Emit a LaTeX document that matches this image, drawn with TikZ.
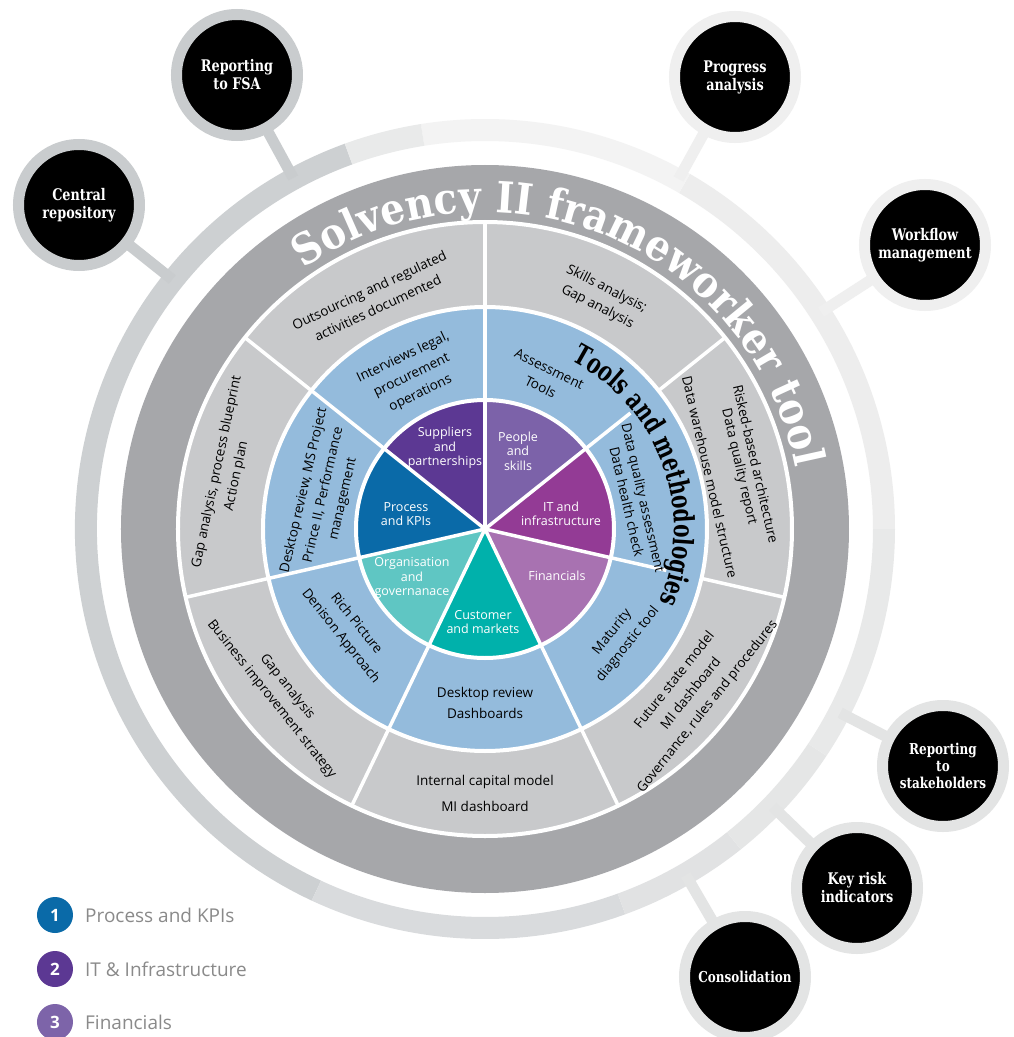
\documentclass[tikz,border=0pt]{standalone}
\usepackage{fontspec}
\setmainfont{Open Sans}
\newfontfamily\slab[FakeStretch=0.8]{DejaVu Serif}
\newfontfamily\slabT[FakeStretch=0.9]{DejaVu Serif}
\newfontfamily\slabM[FakeStretch=0.72]{DejaVu Serif}
\usetikzlibrary{calc,decorations.text}

\definecolor{darkring}{HTML}{A6A7AA}
\definecolor{greyring}{HTML}{C8C9CB}
\definecolor{bluering}{HTML}{94BBDC}
\definecolor{cPeople}{HTML}{7C62A9}
\definecolor{cSupp}{HTML}{5C3893}
\definecolor{cProc}{HTML}{0A6AA8}
\definecolor{cOrg}{HTML}{5FC6C3}
\definecolor{cCust}{HTML}{00B1AB}
\definecolor{cFin}{HTML}{A872B1}
\definecolor{cIT}{HTML}{933B95}
\definecolor{haloA}{HTML}{C9CCCE}
\definecolor{haloB}{HTML}{EFEFEF}
\definecolor{haloC}{HTML}{E3E4E4}
\definecolor{legtxt}{HTML}{8A8A8A}
\definecolor{leg3}{HTML}{7D64A9}
\definecolor{rsA}{HTML}{CDD0D2}
\definecolor{rsB}{HTML}{D9DBDD}
\definecolor{rsC}{HTML}{E1E2E3}
\definecolor{rsD}{HTML}{E5E6E6}
\definecolor{rsE}{HTML}{E8E9E9}
\definecolor{rsF}{HTML}{EDEDED}
\definecolor{rsG}{HTML}{F3F3F3}
\definecolor{rsH}{HTML}{E9EAEA}

\begin{document}
\begin{tikzpicture}[x=1pt,y=1pt,
  ringtxt/.style={font=\fontsize{13.5}{20}\selectfont, align=center, text=black, inner sep=0pt},
  pietxt/.style={font=\fontsize{12.5}{14.5}\selectfont, align=center, text=white, inner sep=0pt},
  sat/.style={circle, fill=black, minimum size=121pt, line width=11pt, inner sep=0pt, align=center, text=white, font=\slab\bfseries\fontsize{16}{18}\selectfont},
  conn/.style={line width=11pt},
  divider/.style={white, line width=3.5pt},
  sepline/.style={white, line width=4pt},
  legcirc/.style={circle, minimum size=36pt, inner sep=0pt, text=white, font=\bfseries\fontsize{17}{17}\selectfont},
  legtext/.style={anchor=west, inner sep=0pt, text=legtxt, font=\fontsize{19}{19}\selectfont}
]
\useasboundingbox (-485,-508) rectangle (529,529);
\fill[white] (-485,-508) rectangle (529,529);
\coordinate (O) at (0,0);

% outer segmented ring
\foreach \a/\b/\c in {110/245/rsA, 245/290/rsB, 290/308.6/rsC, 308.6/326.4/rsD, 326.4/360/rsE, 0/60/rsF, 60/99/rsG, 99/110/rsH}{
  \fill[\c] (\a:410) arc[start angle=\a, end angle=\b, radius=410] -- (\b:388) arc[start angle=\b, end angle=\a, radius=388] -- cycle;
}

% satellite positions and connectors
\coordinate (cr) at (-406,324);
\coordinate (fsa) at (-248,454);
\coordinate (pa) at (250,452);
\coordinate (wf) at (440,284);
\coordinate (rs) at (458,-237);
\coordinate (kr) at (372,-359);
\coordinate (cs) at (260,-448);
\draw[conn, haloA] (cr) -- ($(O)!400pt!(cr)$);
\draw[conn, haloA] (fsa) -- ($(O)!400pt!(fsa)$);
\draw[conn, haloB] (pa) -- ($(O)!400pt!(pa)$);
\draw[conn, haloB] (wf) -- ($(O)!400pt!(wf)$);
\draw[conn, haloC] (rs) -- ($(O)!400pt!(rs)$);
\draw[conn, haloC] (kr) -- ($(O)!400pt!(kr)$);
\draw[conn, haloC] (cs) -- ($(O)!400pt!(cs)$);
\node[sat, draw=haloA] (crn) at (cr) {Central\\repository};
\node[sat, draw=haloA] (fsan) at (fsa) {Reporting\\to FSA};
\node[sat, draw=haloB] (pan) at (pa) {Progress\\analysis};
\node[sat, draw=haloB] (wfn) at (wf) {Workflow\\management};
\node[sat, draw=haloC, font=\slab\bfseries\fontsize{15}{17}\selectfont] (rsn) at (rs) {Reporting\\to\\stakeholders};
\node[sat, draw=haloC] (krn) at (kr) {Key risk\\indicators};
\node[sat, draw=haloC, font=\slab\bfseries\fontsize{15}{17}\selectfont] (csn) at (cs) {Consolidation};

% main discs
\fill[darkring] (O) circle[radius=364];
\fill[greyring] (O) circle[radius=307];
\fill[bluering] (O) circle[radius=222];

% pie
\foreach \a/\b/\c in {38.57/90/cPeople, 90/141.43/cSupp, 141.43/192.86/cProc, 192.86/244.29/cOrg, 244.29/295.71/cCust, 295.71/347.14/cFin, 347.14/398.57/cIT}{
  \fill[\c] (O) -- (\a:129) arc[start angle=\a, end angle=\b, radius=129] -- cycle;
}

% dividers
\foreach \a in {90,141.43,192.86,244.29,295.71}{
  \draw[divider] (O) -- (\a:307);
}
\foreach \a in {38.57,347.14}{
  \draw[divider] (O) -- (\a:186);
  \draw[divider] (\a:222) -- (\a:307);
}
\draw[sepline] (O) circle[radius=129];
\draw[sepline] (O) circle[radius=222];
\draw[sepline] (O) circle[radius=307];

% curved titles
\path[decorate, decoration={text along path, text align=center,
  text={|\slabT\bfseries\fontsize{43}{43}\selectfont\color{white}|Solvency II frameworker tool}}]
  (128:317) arc[start angle=128, end angle=8, radius=317];
\path[decorate, decoration={text along path, text align=center,
  text={|\slabM\bfseries\fontsize{28}{28}\selectfont\color{black}|Tools and methodologies}}]
  (80:189) arc[start angle=80, end angle=-40, radius=189];

% grey ring texts
\node[ringtxt, rotate=25] (t1) at (-111.5,230) {Outsourcing and regulated\\activities documented};
\node[ringtxt, rotate=-27] (t2) at (117,231) {Skills analysis;\\Gap analysis};
\node[ringtxt, rotate=78] (t3) at (168:264) {Gap analysis, process blueprint\\Action plan};
\node[ringtxt, rotate=-51.4] (t4) at (218.6:263) {Gap analysis\\Business improvement strategy};
\node[ringtxt, font=\fontsize{13.5}{26}\selectfont] (t5) at (0,-264.5) {Internal capital model\\MI dashboard};
\node[ringtxt, rotate=51.4, font=\fontsize{13.5}{21}\selectfont] (t6) at (321.4:264) {Future state model\\MI dashboard\\Governance, rules and procedures};
\node[ringtxt, rotate=-77] (t7a) at (271,65) {Risked-based architecture};
\node[ringtxt, rotate=-77] (t7b) at (254,62) {Data quality report};
\node[ringtxt, rotate=-77] (t7c) at (225,52) {Data warehouse model structure};

% blue ring texts
\node[ringtxt, rotate=-26] (b1) at (60,151) {Assessment\\Tools};
\node[ringtxt, rotate=25.7] (b2) at (115.5:170) {Interviews legal,\\procurement\\operations};
\node[ringtxt, rotate=77] (b3) at (168:165) {Desktop review, MS Project\\Prince II, Performance\\management};
\node[ringtxt, rotate=-51.4] (b4) at (216.5:170) {Rich Picture\\Denison Approach};
\node[ringtxt, font=\fontsize{13.5}{21}\selectfont] (b5) at (0,-174) {Desktop review\\Dashboards};
\node[ringtxt, rotate=51.4] (b6) at (321:174) {Maturity\\diagnostic tool};
\node[ringtxt, rotate=-77, font=\fontsize{13.5}{17}\selectfont] (b7) at (11:153) {Data quality assessment\\Data health check};

% pie texts
\node[pietxt] (p1) at (33,78) {People\\and\\skills};
\node[pietxt] (p2) at (-40,81) {Suppliers\\and\\partnerships};
\node[pietxt] (p3) at (-79,15) {Process\\and KPIs};
\node[pietxt] (p4) at (-73,-49) {Organisation\\and\\governanace};
\node[pietxt] (p5) at (-2,-93) {Customer\\and markets};
\node[pietxt] (p6) at (72,-47) {Financials};
\node[pietxt] (p7) at (76,15) {IT and\\infrastructure};

% legend
\node[legcirc, fill=cProc] (l1) at (-430,-386) {1};
\node[legtext] (l1t) at (-400,-386) {Process and KPIs};
\node[legcirc, fill=cSupp] (l2) at (-430,-440) {2};
\node[legtext] (l2t) at (-400,-440) {IT \& Infrastructure};
\node[legcirc, fill=leg3] (l3) at (-430,-493) {3};
\node[legtext] (l3t) at (-400,-493) {Financials};
\end{tikzpicture}
\end{document}
